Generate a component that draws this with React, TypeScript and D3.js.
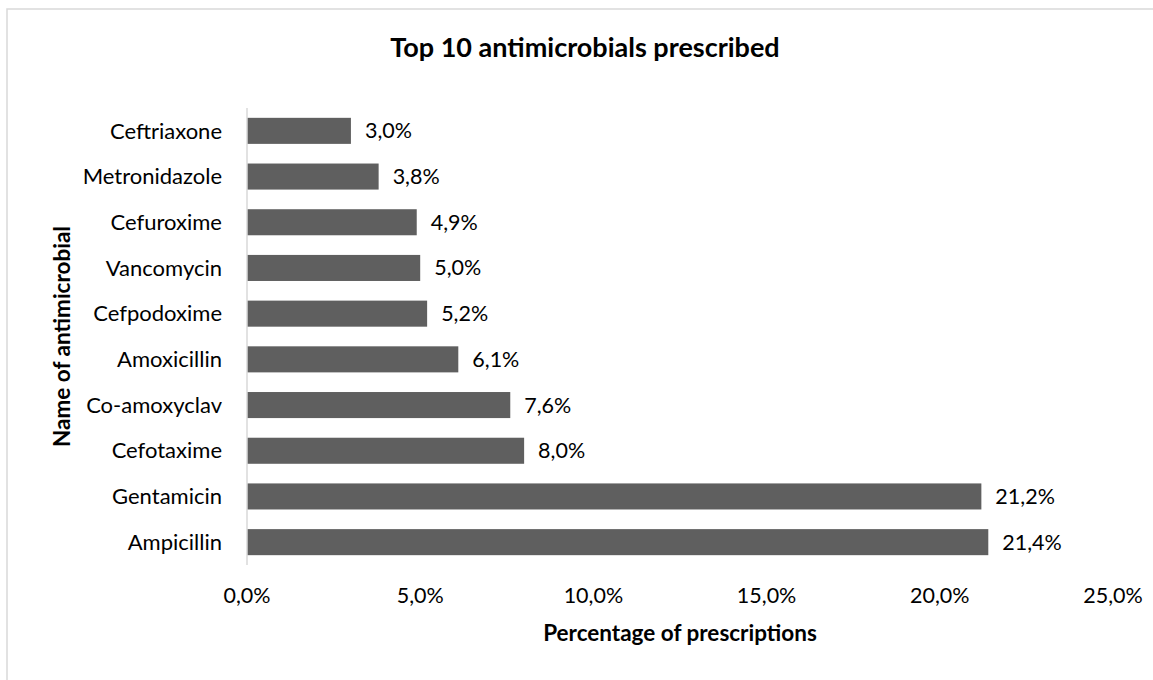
import React from "react";
import * as d3 from "d3";

const categories = [
  "Ceftriaxone",
  "Metronidazole",
  "Cefuroxime",
  "Vancomycin",
  "Cefpodoxime",
  "Amoxicillin",
  "Co-amoxyclav",
  "Cefotaxime",
  "Gentamicin",
  "Ampicillin",
];
const percentages = [3.0, 3.8, 4.9, 5.0, 5.2, 6.1, 7.6, 8.0, 21.2, 21.4];
const xTicks = [0, 5, 10, 15, 20, 25];

const title = "Top 10 antimicrobials prescribed";
const xTitle = "Percentage of prescriptions";
const yTitle = "Name of antimicrobial";

const W = 1153;
const H = 680;
const FONT = "Lato, 'Open Sans', sans-serif";

const fmt = (v: number) => v.toFixed(1).replace(".", ",") + "%";

export default function App() {
  const x = d3.scaleLinear().domain([0, 25]).range([247, 1113]);
  const y = d3
    .scaleBand<string>()
    .domain(categories)
    .range([108, 565])
    .paddingInner(0.43)
    .paddingOuter(0.215);

  return (
    <svg
      width={W}
      height={H}
      style={{ position: "fixed", left: 0, top: 0, background: "#fff" }}
      fontFamily={FONT}
    >
      <rect x={7} y={9} width={W} height={H} fill="#fff" stroke="#d9d9d9" strokeWidth={1.5} />
      <text x={585} y={57} textAnchor="middle" fontSize={27} fontWeight="bold" fill="#000">
        {title}
      </text>

      {categories.map((c, i) => (
        <g key={c}>
          <rect
            x={x(0)}
            y={y(c)}
            width={x(percentages[i]) - x(0)}
            height={y.bandwidth()}
            fill="#5f5f5f"
          />
          <text
            x={x(percentages[i]) + 14}
            y={(y(c) as number) + y.bandwidth() / 2}
            dy="0.35em"
            fontSize={21.5}
            fill="#000"
          >
            {fmt(percentages[i])}
          </text>
          <text
            x={222}
            y={(y(c) as number) + y.bandwidth() / 2}
            dy="0.35em"
            textAnchor="end"
            fontSize={22}
            fill="#000"
          >
            {c}
          </text>
        </g>
      ))}

      <line x1={x(0)} x2={x(0)} y1={108} y2={565} stroke="#d9d9d9" strokeWidth={1.5} />

      {xTicks.map((t) => (
        <text key={t} x={x(t)} y={603} textAnchor="middle" fontSize={21.5} fill="#000">
          {fmt(t)}
        </text>
      ))}

      <text x={680} y={641} textAnchor="middle" fontSize={22.5} fontWeight="bold" fill="#000">
        {xTitle}
      </text>
      <text
        transform={`translate(70,${(108 + 565) / 2}) rotate(-90)`}
        textAnchor="middle"
        fontSize={22.5}
        fontWeight="bold"
        fill="#000"
      >
        {yTitle}
      </text>
    </svg>
  );
}
